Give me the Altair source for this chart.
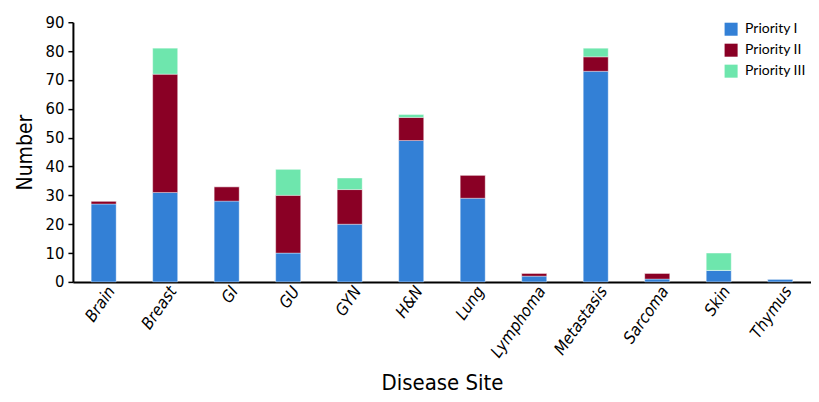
import altair as alt
import pandas as pd

sites = ["Brain", "Breast", "GI", "GU", "GYN", "H&N", "Lung", "Lymphoma",
         "Metastasis", "Sarcoma", "Skin", "Thymus"]
priority_1 = [27, 31, 28, 10, 20, 49, 29, 2, 73, 1, 4, 1]
priority_2 = [1, 41, 5, 20, 12, 8, 8, 1, 5, 2, 0, 0]
priority_3 = [0, 9, 0, 9, 4, 1, 0, 0, 3, 0, 6, 0]
groups = ["Priority I", "Priority II", "Priority III"]
colors = ["#3380d6", "#8a0025", "#6ee6ad"]

rows = []
for i, s in enumerate(sites):
    for g, vals, o in zip(groups, [priority_1, priority_2, priority_3], [0, 1, 2]):
        rows.append({"site": s, "group": g, "value": vals[i], "ord": o})
df = pd.DataFrame(rows)

cond = "DejaVu Sans Condensed"

chart = alt.Chart(df).mark_bar(size=25, stroke="white", strokeWidth=0.6, strokeOpacity=0.6).encode(
    x=alt.X("site:N", sort=sites, title="Disease Site",
            scale=alt.Scale(paddingInner=0.0, paddingOuter=0.0),
            axis=alt.Axis(labelAngle=-55, labelFont=cond, labelFontStyle="italic",
                          labelFontSize=16.5, labelColor="black", labelAlign="right",
                          labelBaseline="middle", labelPadding=6, labelOffset=8,
                          ticks=False, domainColor="black", domainWidth=2,
                          titleFont=cond, titleFontSize=22, titleFontWeight="normal",
                          titleColor="black", titlePadding=12)),
    y=alt.Y("value:Q", stack="zero", title="Number",
            scale=alt.Scale(domain=[0, 90], nice=False),
            axis=alt.Axis(values=list(range(0, 91, 10)), grid=False,
                          labelFont=cond, labelFontSize=16.5, labelColor="black",
                          tickColor="black", tickSize=5, tickWidth=1.5,
                          domainColor="black", domainWidth=2, labelPadding=4,
                          titleFont=cond, titleFontSize=21, titleFontWeight="normal",
                          titleColor="black", titlePadding=10)),
    color=alt.Color("group:N", sort=groups,
                    scale=alt.Scale(domain=groups, range=colors),
                    legend=alt.Legend(title=None, orient="none", legendX=652, legendY=0,
                                      symbolType="square", symbolSize=170,
                                      symbolStrokeWidth=0, labelFont="Lato",
                                      labelFontSize=14, labelColor="black",
                                      rowPadding=7, labelOffset=7)),
    order=alt.Order("ord:Q", sort="ascending"),
).properties(
    width=739, height=260,
    autosize=alt.AutoSizeParams(type="none"),
    padding={"left": 65, "top": 14, "right": 0, "bottom": 120},
).configure_view(stroke=None)

chart.save("out.html", embed_options={"renderer": "svg", "actions": False})
